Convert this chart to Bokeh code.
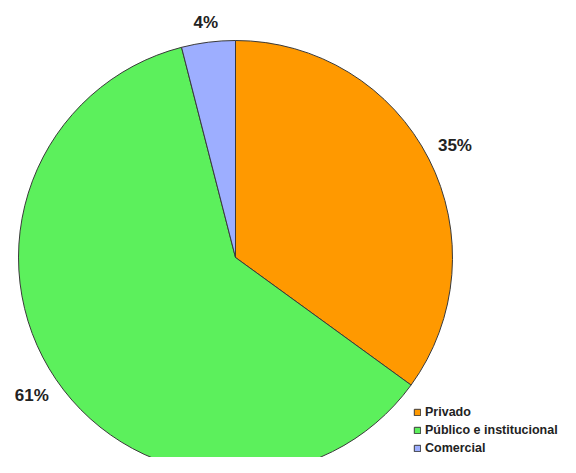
import math
from bokeh.plotting import figure
from bokeh.models import Range1d, Legend, LegendItem, ColumnDataSource
from bokeh.core.properties import value
from bokeh.embed import file_html
from bokeh.resources import INLINE

categories = ["Privado", "Público e institucional", "Comercial"]
shares = [35, 61, 4]
labels = ["35%", "61%", "4%"]
colors = ["#FF9900", "#5CF05C", "#9DAEFF"]

W, H = 560, 457
IMG_H = 473
p = figure(width=W, height=H, output_backend="svg", toolbar_location=None,
           x_range=Range1d(0, W), y_range=Range1d(IMG_H - H, IMG_H),
           min_border=0, border_fill_color="white", background_fill_color="white")
p.axis.visible = False
p.grid.visible = False
p.outline_line_color = None

cx, cy, R = 235, IMG_H - 257, 217
total = sum(shares)
starts, ends, lx, ly = [], [], [], []
a = math.pi / 2
for s in shares:
    span = 2 * math.pi * s / total
    starts.append(a)
    ends.append(a - span)
    mid = a - span / 2
    rr = R * (1.09 if s < 10 else 1.135)
    lx.append(cx + rr * math.cos(mid))
    ly.append(cy + rr * math.sin(mid))
    a -= span

src = ColumnDataSource(dict(start=starts, end=ends, color=colors, cat=categories,
                            lx=lx, ly=ly, lab=labels))
r = p.wedge(x=cx, y=cy, radius=R, start_angle="start", end_angle="end",
            direction="clock", fill_color="color", line_color="#3a3a3a",
            line_width=1, source=src)

p.text(x="lx", y="ly", text="lab", source=src, text_align="center",
       text_baseline="middle", text_font=value("Liberation Sans"),
       text_font_style="bold", text_font_size="17px", text_color="#222222")

items = [LegendItem(label=c, renderers=[r], index=i) for i, c in enumerate(categories)]
legend = Legend(items=items, location=(413, 2), orientation="vertical",
                label_text_font="Liberation Sans", label_text_font_size="12.5px",
                label_text_font_style="bold", label_text_color="#222222",
                glyph_width=8, glyph_height=8, label_height=13, label_standoff=4,
                spacing=4, padding=0, margin=0,
                background_fill_alpha=0, border_line_color=None)
p.add_layout(legend)

open("out.html", "w").write(file_html(p, INLINE))
